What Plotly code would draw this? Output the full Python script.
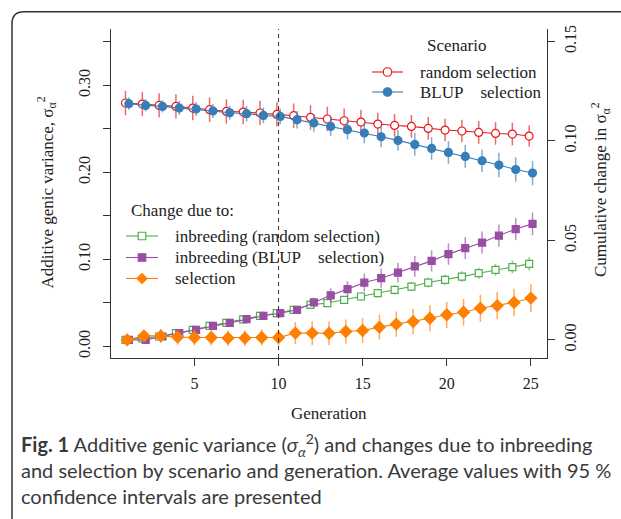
import plotly.graph_objects as go

# ---------------- data ----------------
generation = list(range(1, 26))

# additive genic variance (left axis)
random_sel = [0.2798, 0.2786, 0.2770, 0.2759, 0.2740, 0.2721, 0.2701, 0.2694, 0.2683, 0.2667,
              0.2652, 0.2632, 0.2614, 0.2594, 0.2579, 0.2556, 0.2540, 0.2529, 0.2506, 0.2487,
              0.2476, 0.2460, 0.2448, 0.2441, 0.2418]
random_err = [0.014, 0.014, 0.014, 0.014, 0.014, 0.014, 0.014, 0.014, 0.014, 0.014,
              0.014, 0.014, 0.014, 0.014, 0.014, 0.013, 0.013, 0.013, 0.013, 0.013,
              0.013, 0.013, 0.013, 0.013, 0.012]
blup_sel = [0.2790, 0.2770, 0.2759, 0.2740, 0.2729, 0.2706, 0.2686, 0.2675, 0.2655, 0.2644,
            0.2606, 0.2568, 0.2529, 0.2491, 0.2453, 0.2410, 0.2368, 0.2322, 0.2276, 0.2230,
            0.2184, 0.2134, 0.2085, 0.2034, 0.1993]
blup_err = [0.007, 0.007, 0.007, 0.008, 0.008, 0.008, 0.008, 0.009, 0.009, 0.009,
            0.010, 0.010, 0.011, 0.011, 0.012, 0.012, 0.012, 0.013, 0.013, 0.013,
            0.013, 0.013, 0.014, 0.014, 0.014]

# cumulative change (right axis)
inb_random = [0.0000, 0.0008, 0.0017, 0.0034, 0.0050, 0.0070, 0.0085, 0.0103, 0.0121, 0.0134,
              0.0151, 0.0176, 0.0185, 0.0201, 0.0218, 0.0235, 0.0251, 0.0268, 0.0288, 0.0302,
              0.0318, 0.0335, 0.0352, 0.0366, 0.0382]
inb_random_err = [0.0008, 0.0008, 0.0009, 0.0010, 0.0011, 0.0012, 0.0013, 0.0014, 0.0015, 0.0016,
                  0.0017, 0.0018, 0.0019, 0.0020, 0.0021, 0.0022, 0.0023, 0.0024, 0.0025, 0.0026,
                  0.0027, 0.0028, 0.0030, 0.0031, 0.0033]
inb_blup = [0.0000, 0.0000, 0.0017, 0.0034, 0.0050, 0.0070, 0.0085, 0.0104, 0.0121, 0.0134,
            0.0151, 0.0188, 0.0224, 0.0255, 0.0288, 0.0310, 0.0338, 0.0369, 0.0397, 0.0431,
            0.0461, 0.0489, 0.0524, 0.0557, 0.0583]
inb_blup_err = [0.0008, 0.0008, 0.0009, 0.0010, 0.0011, 0.0012, 0.0013, 0.0014, 0.0015, 0.0016,
                0.0018, 0.0025, 0.0035, 0.0040, 0.0045, 0.0048, 0.0050, 0.0052, 0.0053, 0.0054,
                0.0055, 0.0055, 0.0056, 0.0056, 0.0057]
selection = [0.0000, 0.0020, 0.0020, 0.0014, 0.0012, 0.0012, 0.0009, 0.0009, 0.0012, 0.0012,
             0.0034, 0.0034, 0.0033, 0.0042, 0.0047, 0.0064, 0.0079, 0.0092, 0.0109, 0.0126,
             0.0139, 0.0159, 0.0172, 0.0188, 0.0210]
selection_err = [0.0020, 0.0030, 0.0035, 0.0038, 0.0040, 0.0040, 0.0040, 0.0040, 0.0040, 0.0040,
                 0.0055, 0.0060, 0.0060, 0.0060, 0.0062, 0.0062, 0.0064, 0.0065, 0.0066, 0.0066,
                 0.0067, 0.0068, 0.0068, 0.0069, 0.0070]

x_ticks = [5, 10, 15, 20, 25]
y_left_ticks = [0.00, 0.10, 0.20, 0.30]
y_left_text = ["0.00", "0.10", "0.20", "0.30"]
y_left_minor = [0.05, 0.15, 0.25, 0.35]
y_right_ticks = [0.00, 0.05, 0.10, 0.15]
y_right_text = ["0.00", "0.05", "0.10", "0.15"]

scenario_labels = ["random selection", "BLUP\u00a0\u00a0\u00a0 selection"]
change_labels = ["inbreeding (random selection)", "inbreeding (BLUP\u00a0\u00a0\u00a0 selection)", "selection"]

# ---------------- layout geometry ----------------
W, H = 621, 519
L, R, T, B = 111, 74, 29, 161
PW, PH = W - L - R, H - T - B


def px(xp):
    return (xp - L) / PW


def py(yp):
    return (H - B - yp) / PH


RED, BLUE, GREEN, PURPLE, ORANGE = "#E41A1C", "#377EB8", "#4DAF4A", "#984EA3", "#FF7F00"
SERIF = "Liberation Serif"
AX = "#333333"
TXT = "#222222"


def rgba(hex_, a):
    h = hex_.lstrip("#")
    return f"rgba({int(h[0:2],16)},{int(h[2:4],16)},{int(h[4:6],16)},{a})"


fig = go.Figure()


def add(name, xs, ys, err, color, symbol, fill, yaxis, size):
    fig.add_trace(go.Scatter(
        x=xs, y=ys, name=name, mode="lines+markers", yaxis=yaxis, showlegend=False,
        line=dict(color=color, width=1.1),
        marker=dict(symbol=symbol, size=size, color=fill, line=dict(color=color, width=1.2)),
        error_y=dict(type="data", array=err, visible=True, width=0, thickness=1.5,
                     color=rgba(color, 0.65)),
    ))


gen_l = [g - 0.1 for g in generation]
gen_r = [g + 0.1 for g in generation]

add(scenario_labels[0], gen_l, random_sel, random_err, RED, "circle", "white", "y", 8)
add(scenario_labels[1], gen_r, blup_sel, blup_err, BLUE, "circle", BLUE, "y", 8)
add(change_labels[0], gen_l, inb_random, inb_random_err, GREEN, "square", "white", "y2", 7)
add(change_labels[1], gen_r, inb_blup, inb_blup_err, PURPLE, "square", PURPLE, "y2", 7)
add(change_labels[2], generation, selection, selection_err, ORANGE, "diamond", ORANGE, "y2", 9)

tick_font = dict(family=SERIF, size=16, color=TXT)
lab_font = dict(family=SERIF, size=17, color=TXT)

fig.update_layout(
    width=W, height=H,
    margin=dict(l=L, r=R, t=T, b=B),
    paper_bgcolor="white", plot_bgcolor="white",
    font=dict(family=SERIF, size=16, color=TXT),
    showlegend=False,
    xaxis=dict(range=[0.04, 25.96], tickvals=x_ticks, ticks="outside", ticklen=7,
               tickcolor=AX, showline=True, linecolor=AX, linewidth=1, showgrid=False,
               zeroline=False, tickfont=tick_font, ticklabelstandoff=4),
    yaxis=dict(range=[-0.0132, 0.3648], tickvals=y_left_ticks, ticktext=y_left_text,
               ticks="outside", ticklen=7, tickcolor=AX, showline=True, linecolor=AX,
               linewidth=1, showgrid=False, zeroline=False, tickangle=-90,
               tickfont=tick_font, ticklabelstandoff=7,
               minor=dict(tickvals=y_left_minor, ticks="outside", ticklen=7,
                          tickcolor=AX, showgrid=False)),
    yaxis2=dict(range=[-0.0091, 0.1562], tickvals=y_right_ticks, ticktext=y_right_text,
                overlaying="y", side="right", ticks="outside", ticklen=7, tickcolor=AX,
                showline=True, linecolor=AX, linewidth=1, showgrid=False, zeroline=False,
                tickangle=-90, tickfont=tick_font, ticklabelstandoff=2),
)

# vertical dashed line at generation 10
fig.add_shape(type="line", xref="x", yref="paper", x0=10, x1=10, y0=0, y1=1,
              line=dict(color=AX, width=1, dash="4px,4px"))


def text(xp, yp, s, font, xanchor="left", angle=0):
    fig.add_annotation(xref="paper", yref="paper", x=px(xp), y=py(yp), showarrow=False,
                       textangle=angle, xanchor=xanchor, yanchor="middle", text=s, font=font)


def key(xl, xr, yc, color, symbol, fill, size):
    # line sample
    fig.add_shape(type="line", xref="paper", yref="paper", x0=px(xl), x1=px(xr),
                  y0=py(yc), y1=py(yc), line=dict(color=color, width=1.1))
    xc = (xl + xr) / 2
    h = size / 2
    if symbol == "circle":
        fig.add_shape(type="circle", xref="paper", yref="paper", x0=px(xc - h), x1=px(xc + h),
                      y0=py(yc + h), y1=py(yc - h), fillcolor=fill, line=dict(color=color, width=1.2))
    elif symbol == "square":
        fig.add_shape(type="rect", xref="paper", yref="paper", x0=px(xc - h), x1=px(xc + h),
                      y0=py(yc + h), y1=py(yc - h), fillcolor=fill, line=dict(color=color, width=1.2))
    else:
        p = (f"M {px(xc - h)},{py(yc)} L {px(xc)},{py(yc - h)} L {px(xc + h)},{py(yc)} "
             f"L {px(xc)},{py(yc + h)} Z")
        fig.add_shape(type="path", xref="paper", yref="paper", path=p, fillcolor=fill,
                      line=dict(color=color, width=1.2))


# legend: Scenario
text(456.5, 45, "Scenario", lab_font, xanchor="center")
key(372, 403, 72, RED, "circle", "white", 8.5)
text(418, 72, scenario_labels[0], lab_font)
key(372, 403, 92, BLUE, "circle", BLUE, 8.5)
text(418, 92, scenario_labels[1], lab_font)

# legend: change due to
text(129, 210, "Change due to:", lab_font)
key(126, 158, 236, GREEN, "square", "white", 7.5)
text(173, 236, change_labels[0], lab_font)
key(126, 158, 257.5, PURPLE, "square", PURPLE, 7.5)
text(173, 257.5, change_labels[1], lab_font)
key(126, 158, 278.5, ORANGE, "diamond", ORANGE, 10)
text(173, 278.5, change_labels[2], lab_font)

# axis titles
text(46.5, 193, "Additive genic variance, σ<sub>α</sub><sup>2</sup>", lab_font, xanchor="center", angle=-90)
text(600, 190, "Cumulative change in σ<sub>α</sub><sup>2</sup>", lab_font, xanchor="center", angle=-90)
text(329, 413, "Generation", lab_font, xanchor="center")

# caption
fig.add_annotation(xref="paper", yref="paper", x=px(19), y=py(428), showarrow=False,
                   xanchor="left", yanchor="top", align="left",
                   text=("<b>Fig. 1</b> Additive genic variance (<i>σ</i><sub><i>α</i></sub><sup>2</sup>) and changes due to inbreeding<br>"
                         "and selection by scenario and generation. Average values with 95 %<br>"
                         "confidence intervals are presented"),
                   font=dict(family="Lato", size=20, color="#3a3a3a"))

# rounded frame (extends past right/bottom edge)
x0, y0, x1, y1, r = px(12), py(11.7), px(700), py(560), 12
rx, ry = r / PW, r / PH
path = (f"M {x1},{y0} L {x0 + rx},{y0} Q {x0},{y0} {x0},{y0 - ry} "
        f"L {x0},{y1} L {x1},{y1}")
fig.add_shape(type="path", xref="paper", yref="paper", path=path,
              line=dict(color="#333333", width=1.5))

fig.write_html("out.html")
